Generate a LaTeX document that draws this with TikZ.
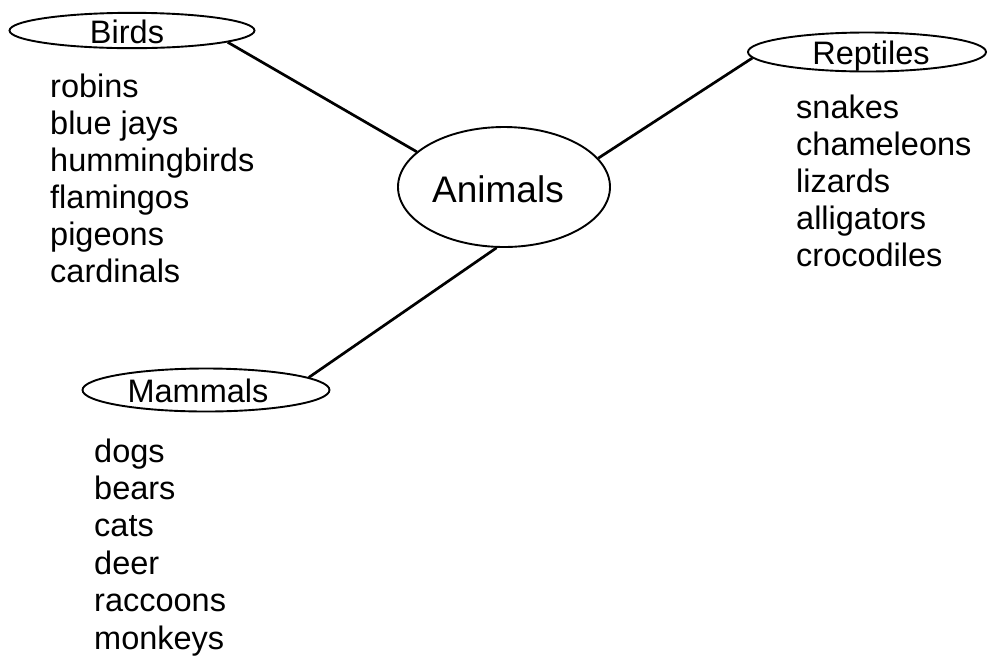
\documentclass[tikz,border=0pt]{standalone}
\usepackage{fontspec}
\setmainfont{Liberation Sans}
\usetikzlibrary{shapes.geometric}
\begin{document}
\begin{tikzpicture}[x=1pt,y=-1pt,
  hdr/.style={draw, ellipse, line width=1.9pt, inner sep=0pt,
    font=\fontsize{32.5}{37}\selectfont, text height=25pt, text depth=0pt},
  hub/.style={hdr, font=\fontsize{37}{40}\selectfont, text height=30pt},
  item/.style={anchor=base west, inner sep=0pt, font=\fontsize{32.5}{37}\selectfont},
  link/.style={line width=2.7pt}]
\useasboundingbox (0,0) rectangle (990,657);

\node[hub, minimum width=212pt, minimum height=120pt] (animals) at (504,187) {\kern-12pt Animals};
\node[hdr, minimum width=245pt, minimum height=35pt] (birds) at (132,30.5) {\kern-10pt Birds};
\node[hdr, minimum width=238pt, minimum height=39pt] (reptiles) at (867,52) {\kern8pt Reptiles};
\node[hdr, minimum width=247pt, minimum height=43pt] (mammals) at (206,390) {\kern-16pt Mammals};

\draw[link] (birds.-7) -- (animals.158);
\draw[link] (reptiles.183) -- (animals.17);
\draw[link] (mammals.7) -- (animals.-97);

\foreach \t [count=\i] in {robins, blue jays, hummingbirds, flamingos, pigeons, cardinals}
  \node[item] (bird\i) at (50, {97+37*(\i-1)}) {\t};
\foreach \t [count=\i] in {snakes, chameleons, lizards, alligators, crocodiles}
  \node[item] (rept\i) at (796, {118+37.2*(\i-1)}) {\t};
\foreach \t [count=\i] in {dogs, bears, cats, deer, raccoons, monkeys}
  \node[item] (mamm\i) at (94, {462+37.4*(\i-1)}) {\t};
\end{tikzpicture}
\end{document}
